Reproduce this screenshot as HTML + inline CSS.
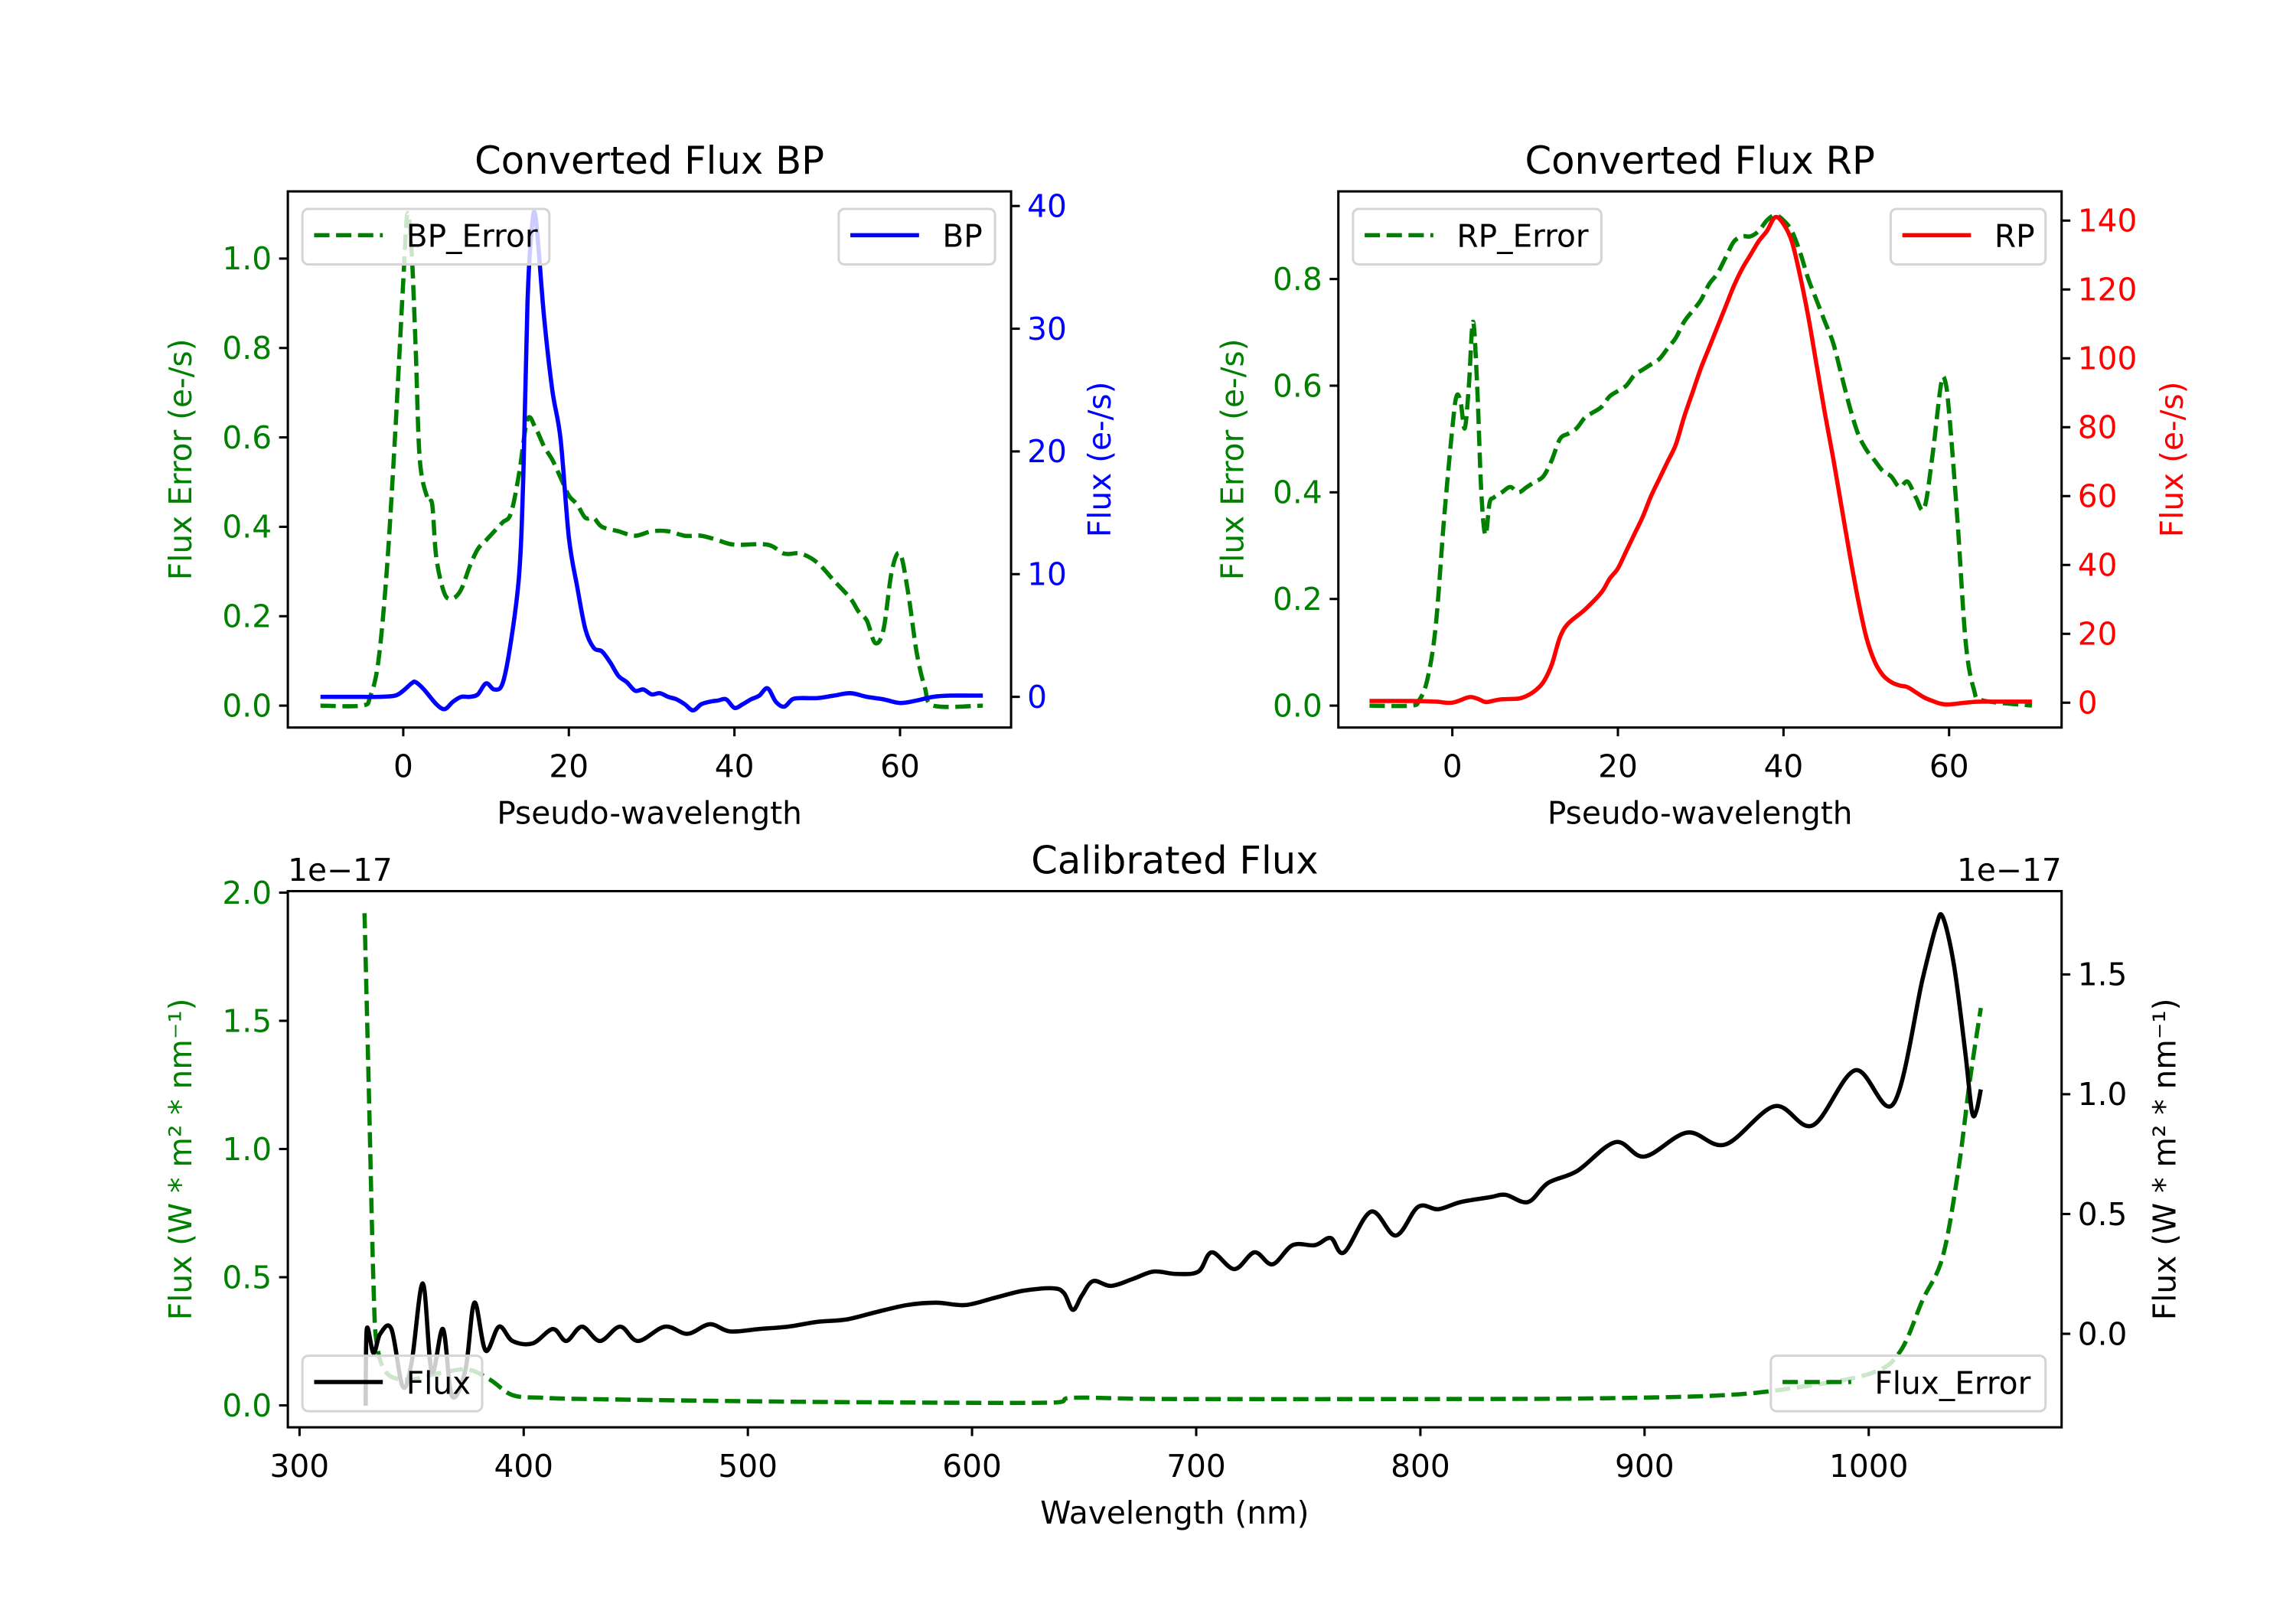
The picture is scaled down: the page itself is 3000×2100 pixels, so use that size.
<!DOCTYPE html>
<html><head><meta charset="utf-8"><style>
html,body{margin:0;padding:0;background:#fff}
svg{display:block}
text{font-family:"DejaVu Sans","Liberation Sans",sans-serif}
</style></head><body>
<svg id="fig" xmlns="http://www.w3.org/2000/svg" width="3000" height="2100" viewBox="0 0 1571.43 1100">
<rect width="1571.43" height="1100" fill="#fff"/>
</svg>
<script>
// ---- BP data ----
const bpX = [-10,-5,-3,-1,0,1,1.5,2.5,4,5,6,7,8,9,10,11,12,13,14,14.5,15,15.5,16,17,18,19,20,21,22,23,24,25,26,27,28,29,30,31,32,33,34,35,36,37,38,39,40,41,42,43,44,45,46,47,48,50,52,54,56,58,60,62,64,66,70];
const bpFlux = [0,0,0,0.1,0.5,1.1,1.2,0.6,-0.6,-1,-0.4,0,0,0.2,1.1,0.6,1.1,4.5,10,18,32,38,39,31,25,21,13,9,5.5,4,3.7,2.8,1.7,1.2,0.5,0.6,0.2,0.3,0,-0.2,-0.6,-1.1,-0.6,-0.4,-0.3,-0.2,-0.9,-0.6,-0.2,0.1,0.7,-0.4,-0.8,-0.2,-0.1,-0.1,0.1,0.3,0.0,-0.2,-0.5,-0.3,0,0.1,0.1];
const bpErrX = [-10,-5,-4,-3,-2,-1,0,0.5,1,1.5,2,3,3.5,4,5,6,7,8,9,10,11,12,13,14,15,16,17,18,19,20,21,22,23,24,26,28,30,32,34,36,38,40,44,46,48,50,52,54,55,56,57,58,59,60,61,62,63,64,70];
const bpErr = [0,0,0.02,0.1,0.3,0.6,0.95,1.1,1.02,0.8,0.55,0.46,0.45,0.33,0.25,0.24,0.26,0.31,0.35,0.37,0.39,0.41,0.43,0.52,0.64,0.62,0.58,0.55,0.51,0.47,0.45,0.42,0.42,0.40,0.39,0.38,0.39,0.39,0.38,0.38,0.37,0.36,0.36,0.34,0.34,0.32,0.28,0.24,0.21,0.19,0.14,0.17,0.3,0.34,0.25,0.12,0.04,0.0,0];
// ---- RP data ----
const rpX = [-10,-5,-2,0,2,3,4,5,6,8,9,10,11,12,13,14,16,18,19,20,21,22,23,24,25,26,27,28,29,30,31,32,33,34,35,36,37,38,39,40,41,42,43,44,45,46,47,48,49,50,51,52,53,54,55,56,57,58,59,60,62,64,70];
const rpFlux = [0.5,0.5,0.3,0,1.6,1.2,0.2,0.6,1,1.2,2,3.5,6,11,19,23,27,32,36,39,44,49,54,60,65,70,75,83,90,97,103,109,115,121,126,130,134,137,141,139,134,124,112,98,84,71,57,43,30,19,12,8,6,5,4.5,3,1.5,0.5,-0.3,-0.5,0,0.3,0.3];
const rpErrX = [-10,-5,-4,-3,-2,-1,0,0.5,1,1.5,2,2.5,3,3.5,4,4.5,5,6,7,8,9,10,11,12,13,14,15,16,17,18,19,20,21,22,23,24,25,26,27,28,29,30,31,32,33,34,35,36,37,38,39,40,41,42,43,44,45,46,47,48,49,50,51,52,53,54,55,56,57,58,59,59.5,60,61,62,63,64,70];
const rpErr = [0,0,0.01,0.05,0.15,0.35,0.52,0.58,0.57,0.52,0.6,0.72,0.6,0.4,0.32,0.38,0.39,0.40,0.41,0.40,0.41,0.42,0.43,0.46,0.50,0.51,0.52,0.54,0.55,0.56,0.58,0.59,0.60,0.62,0.63,0.64,0.65,0.67,0.69,0.72,0.74,0.76,0.79,0.81,0.84,0.87,0.88,0.88,0.89,0.91,0.92,0.91,0.89,0.85,0.80,0.76,0.72,0.68,0.62,0.56,0.51,0.48,0.46,0.44,0.43,0.41,0.42,0.39,0.37,0.47,0.60,0.61,0.55,0.35,0.12,0.03,0.01,0];
// ---- Calibrated data ----
const calX = [329.5,330,333,336,341,346,350,355,359,364,368,374,378,383,389,395,404,413,419,426,434,443,451,463,473,483,492,505,518,531,544,557,571,584,597,610,623,636,641,645,649,654,662,672,681,691,701,707,717,726,734,743,753,760,766,778,789,799,808,818,831,838,848,857,870,887,900,919,936,958,975,994,1011,1024,1030,1033,1038,1043,1046,1048,1050];
const calFlux = [-0.3,0.02,-0.08,0.0,0.02,-0.22,-0.12,0.21,-0.16,0.02,-0.26,-0.15,0.13,-0.07,0.03,-0.03,-0.04,0.02,-0.03,0.03,-0.03,0.03,-0.03,0.03,0.0,0.04,0.01,0.02,0.03,0.05,0.06,0.09,0.12,0.13,0.12,0.15,0.18,0.19,0.17,0.1,0.16,0.22,0.20,0.23,0.26,0.25,0.26,0.34,0.27,0.34,0.29,0.37,0.37,0.40,0.34,0.51,0.41,0.53,0.52,0.55,0.57,0.58,0.55,0.63,0.68,0.80,0.74,0.84,0.79,0.95,0.87,1.10,0.96,1.48,1.70,1.74,1.54,1.18,0.93,0.93,1.02];
const calErrX = [329,331,333,334.5,339,349,362,375,385,395,408,427,492,557,636,645.5,688,818,883,936,968,1001,1014,1024,1033,1040,1045,1050];
const calErr = [1.92,1.2,0.47,0.24,0.125,0.10,0.125,0.14,0.10,0.04,0.03,0.025,0.017,0.012,0.011,0.03,0.025,0.025,0.028,0.04,0.07,0.125,0.21,0.41,0.58,0.92,1.26,1.55];
// ---- Tick labels ----
const pxTicks = [0,20,40,60];
const bpErrTicks = ["0.0","0.2","0.4","0.6","0.8","1.0"];
const bpFluxTicks = ["0","10","20","30","40"];
const rpErrTicks = ["0.0","0.2","0.4","0.6","0.8"];
const rpFluxTicks = ["0","20","40","60","80","100","120","140"];
const wlTicks = [300,400,500,600,700,800,900,1000];
const calErrTicks = ["0.0","0.5","1.0","1.5","2.0"];
const calFluxTicks = ["0.0","0.5","1.0","1.5"];

const NS="http://www.w3.org/2000/svg";
const svg=document.getElementById('fig');
const G='#008000', FS=21.3, TFS=26, LW=2.9;
function mk(tag,attrs,parent){const e=document.createElementNS(NS,tag);for(const k in attrs)e.setAttribute(k,attrs[k]);(parent||svg).appendChild(e);return e;}
function lin(d0,d1,p0,p1){return v=>p0+(v-d0)*(p1-p0)/(d1-d0);}
function txt(s,x,y,anchor,size,fill,parent,rot){const t=mk('text',{x:x,y:y,'text-anchor':anchor,'font-size':size,fill:fill},parent);if(rot)t.setAttribute('transform','rotate(-90 '+x+' '+y+')');t.textContent=s;return t;}
function pathD(xs,ys,sx,sy){
  const P=xs.map((v,i)=>[sx(v),sy(ys[i])]);
  let d='M'+P[0][0].toFixed(2)+','+P[0][1].toFixed(2);
  for(let i=0;i<P.length-1;i++){
    const p0=P[Math.max(0,i-1)],p1=P[i],p2=P[i+1],p3=P[Math.min(P.length-1,i+2)];
    const t=0.5/3;
    let c1x=p1[0]+(p2[0]-p0[0])*t, c1y=p1[1]+(p2[1]-p0[1])*t;
    let c2x=p2[0]-(p3[0]-p1[0])*t, c2y=p2[1]-(p3[1]-p1[1])*t;
    c1x=Math.min(Math.max(c1x,p1[0]),p2[0]); c2x=Math.min(Math.max(c2x,p1[0]),p2[0]);
    d+='C'+c1x.toFixed(2)+','+c1y.toFixed(2)+' '+c2x.toFixed(2)+','+c2y.toFixed(2)+' '+p2[0].toFixed(2)+','+p2[1].toFixed(2);
  }
  return d;
}

function panel(o){
  const g=mk('g',{});
  
  
  const clipId=o.name+'-clip';
  const cp=mk('clipPath',{id:clipId},g);
  mk('rect',{x:o.L,y:o.T,width:o.R-o.L,height:o.B-o.T},cp);
  const plot=mk('g',{'clip-path':'url(#'+clipId+')'},g);
  
  
  o.series.forEach(s=>{
    const p=mk('path',{d:pathD(s.x,s.y,o.sx,s.axis==='L'?o.syL:o.syR),fill:'none',stroke:s.color,'stroke-width':LW,'stroke-linejoin':'round','stroke-dasharray':s.dash?'10.5,4.5':'none'},plot);
    
    
  });
  const fr=mk('rect',{x:o.L,y:o.T,width:o.R-o.L,height:o.B-o.T,fill:'none',stroke:'#000','stroke-width':1.6},g);
  
  
  const xa=mk('g',{},g);
  
  
  o.xt.forEach(v=>{const x=o.sx(v);mk('line',{x1:x,x2:x,y1:o.B,y2:o.B+6,stroke:'#000','stroke-width':1.6},xa);txt(String(v),x,o.B+34,'middle',FS,'#000',xa);});
  const xl=txt(o.xlabel,(o.L+o.R)/2,o.B+66,'middle',FS,'#000',g);
  
  
  const ya=mk('g',{},g);
  
  
  o.ytL.forEach(s=>{const y=o.syL(parseFloat(s));mk('line',{x1:o.L-6,x2:o.L,y1:y,y2:y,stroke:'#000','stroke-width':1.6},ya);txt(s,o.L-11,y+7.5,'end',FS,o.cL,ya);});
  const yr=mk('g',{},g);
  
  
  o.ytR.forEach(s=>{const y=o.syR(parseFloat(s));mk('line',{x1:o.R,x2:o.R+6,y1:y,y2:y,stroke:'#000','stroke-width':1.6},yr);txt(s,o.R+11,y+7.5,'start',FS,o.cR,yr);});
  const yc=(o.T+o.B)/2;
  const lt=txt(o.ylabelL,o.lx,yc,'middle',FS,o.cL,g,true);
  
  
  const rt=txt(o.ylabelR,o.rx,yc,'middle',FS,o.cR,g,true);
  
  
  const tt=txt(o.title,(o.L+o.R)/2,o.T-12,'middle',TFS,'#000',g);
  
  
  o.legends.forEach(l=>{
    const lg=mk('g',{},g);
    
    
    mk('rect',{x:l.x,y:l.y,width:l.w,height:38,rx:4,fill:'#fff','fill-opacity':0.8,stroke:'#d5d5d5','stroke-width':1.6},lg);
    mk('line',{x1:l.x+8,x2:l.x+55,y1:l.y+18,y2:l.y+18,stroke:l.color,'stroke-width':LW,'stroke-dasharray':l.dash?'10.5,4.5':'none'},lg);
    txt(l.label,l.x+71,l.y+26,'start',FS,'#000',lg);
  });
  return g;
}

panel({name:'bp-panel',L:197,R:692,T:131,B:498,
  sx:lin(0,60,276,616),syL:lin(0,1,483,177),syR:lin(0,40,477,141),
  xt:pxTicks,ytL:bpErrTicks,ytR:bpFluxTicks,cL:G,cR:'#0000ff',
  xlabel:'Pseudo-wavelength',ylabelL:'Flux Error (e-/s)',ylabelR:'Flux (e-/s)',lx:131,rx:760,
  title:'Converted Flux BP',
  series:[{name:'bp-error-line',x:bpErrX,y:bpErr,axis:'L',color:G,dash:true},{name:'bp-flux-line',x:bpX,y:bpFlux,axis:'R',color:'#0000ff'}],
  legends:[{name:'legend-bp-error',x:207,y:143,w:169,label:'BP_Error',color:G,dash:true},{name:'legend-bp',x:574,y:143,w:107,label:'BP',color:'#0000ff'}]});

panel({name:'rp-panel',L:916,R:1411,T:131,B:498,
  sx:lin(0,60,994,1334),syL:lin(0,0.8,483,191),syR:lin(0,140,481,151),
  xt:pxTicks,ytL:rpErrTicks,ytR:rpFluxTicks,cL:G,cR:'#ff0000',
  xlabel:'Pseudo-wavelength',ylabelL:'Flux Error (e-/s)',ylabelR:'Flux (e-/s)',lx:851,rx:1494,
  title:'Converted Flux RP',
  series:[{name:'rp-error-line',x:rpErrX,y:rpErr,axis:'L',color:G,dash:true},{name:'rp-flux-line',x:rpX,y:rpFlux,axis:'R',color:'#ff0000'}],
  legends:[{name:'legend-rp-error',x:926,y:143,w:170,label:'RP_Error',color:G,dash:true},{name:'legend-rp',x:1294,y:143,w:106,label:'RP',color:'#ff0000'}]});

panel({name:'calibrated-panel',L:197,R:1411,T:610,B:977,
  sx:lin(300,1000,205,1279),syL:lin(0,2,962,611),syR:lin(0,1.5,913,667),
  xt:wlTicks,ytL:calErrTicks,ytR:calFluxTicks,cL:G,cR:'#000',
  xlabel:'Wavelength (nm)',ylabelL:'Flux (W * m² * nm⁻¹)',ylabelR:'Flux (W * m² * nm⁻¹)',lx:131,rx:1489,
  title:'Calibrated Flux',
  series:[{name:'calibrated-error-line',x:calErrX,y:calErr,axis:'L',color:G,dash:true},{name:'calibrated-flux-line',x:calX,y:calFlux,axis:'R',color:'#000'}],
  legends:[{name:'legend-flux',x:207,y:928,w:123,label:'Flux',color:'#000'},{name:'legend-flux-error',x:1212,y:928,w:188,label:'Flux_Error',color:G,dash:true}]});

const o1=txt('1e−17',197,603,'start',FS,'#000');


const o2=txt('1e−17',1411,603,'end',FS,'#000');


</script>
</body></html>
